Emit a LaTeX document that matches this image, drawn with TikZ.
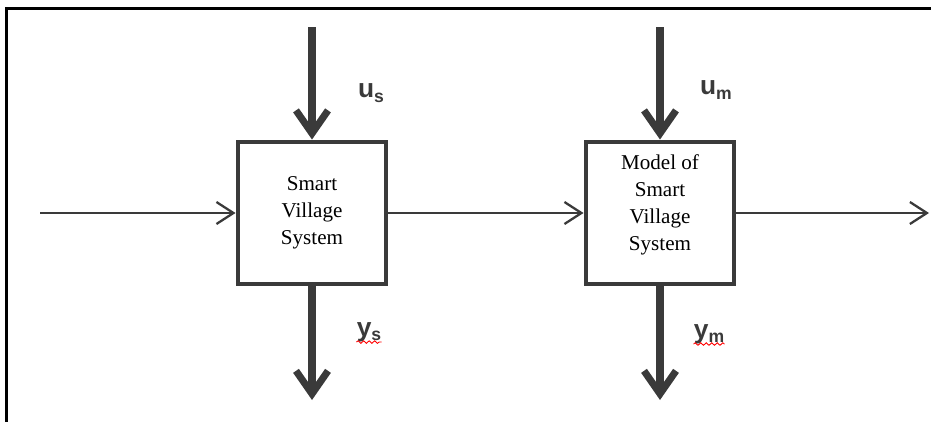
\documentclass[tikz,border=0pt]{standalone}
\usepackage{fontspec}
\setmainfont{Liberation Serif}
\newfontfamily\sigfont{Liberation Sans}
\usepackage{xcolor}
\usetikzlibrary{arrows.meta,positioning,decorations.pathmorphing}
\definecolor{darkline}{HTML}{3A3A3A}
\newcommand{\sigsub}[2]{#1\raisebox{-0.9mm}{\fontsize{10}{12}\selectfont #2}}

\tikzset{
  sysbox/.style={draw=darkline, line width=2.8pt, minimum width=29.6mm, minimum height=28.4mm, inner sep=0pt},
  boxtext/.style={align=center, font=\fontsize{12}{15.3}\selectfont, inner sep=0pt},
  bigarrow/.style={draw=darkline, line width=4pt, -{Straight Barb[length=4.6mm,width=6.4mm]}},
  thinarrow/.style={draw=darkline, line width=1.3pt, -{Straight Barb[length=3.4mm,width=4.4mm]}},
  siglabel/.style={font=\sigfont\bfseries\fontsize{15}{18}\selectfont, text=darkline, inner sep=0pt},
  squiggle/.style={draw=red, line width=0.5pt, decorate, decoration={snake, segment length=1.1mm, amplitude=0.25mm}}
}

\begin{document}
\begin{tikzpicture}[x=0.2mm, y=-0.2mm]
    \useasboundingbox (0,0) rectangle (931,422);

    % Frame
    \draw[line width=1.7pt] (931,8.5) -- (6.5,8.5) -- (6.5,422);

    % Blocks
    \node[sysbox] (sys) at (312,213) {};
    \node[boxtext] (systext) at (sys.center) {Smart\\Village\\System};
    \node[sysbox] (model) at (660,213) {};
    \node[boxtext] (modeltext) at ([yshift=1.6mm]model.center) {Model of\\Smart\\Village\\System};

    % Signal flow
    \coordinate (src) at (40,213);
    \coordinate (sink) at (929,213);
    \draw[thinarrow] (src) -- (sys.west);
    \draw[thinarrow] (sys.east) -- (model.west);
    \draw[thinarrow] (model.east) -- (sink);

    % Inputs and outputs
    \coordinate (usin) at (312,27);
    \coordinate (umin) at (660,27);
    \coordinate (ysout) at (312,400);
    \coordinate (ymout) at (660,400);
    \draw[bigarrow] (usin) -- (sys.north);
    \draw[bigarrow] (umin) -- (model.north);
    \draw[bigarrow] (sys.south) -- (ysout);
    \draw[bigarrow] (model.south) -- (ymout);

    % Labels
    \node[siglabel] (us) at (371,93) {\sigsub{u}{s}};
    \node[siglabel] (um) at (716,90) {\sigsub{u}{m}};
    \node[siglabel] (ys) at (369,332) {\sigsub{y}{s}};
    \node[siglabel] (ym) at (709,334) {\sigsub{y}{m}};
    \draw[squiggle] (ys.south west) -- (ys.south east);
    \draw[squiggle] (ym.south west) -- (ym.south east);
  \end{tikzpicture}
\end{document}
